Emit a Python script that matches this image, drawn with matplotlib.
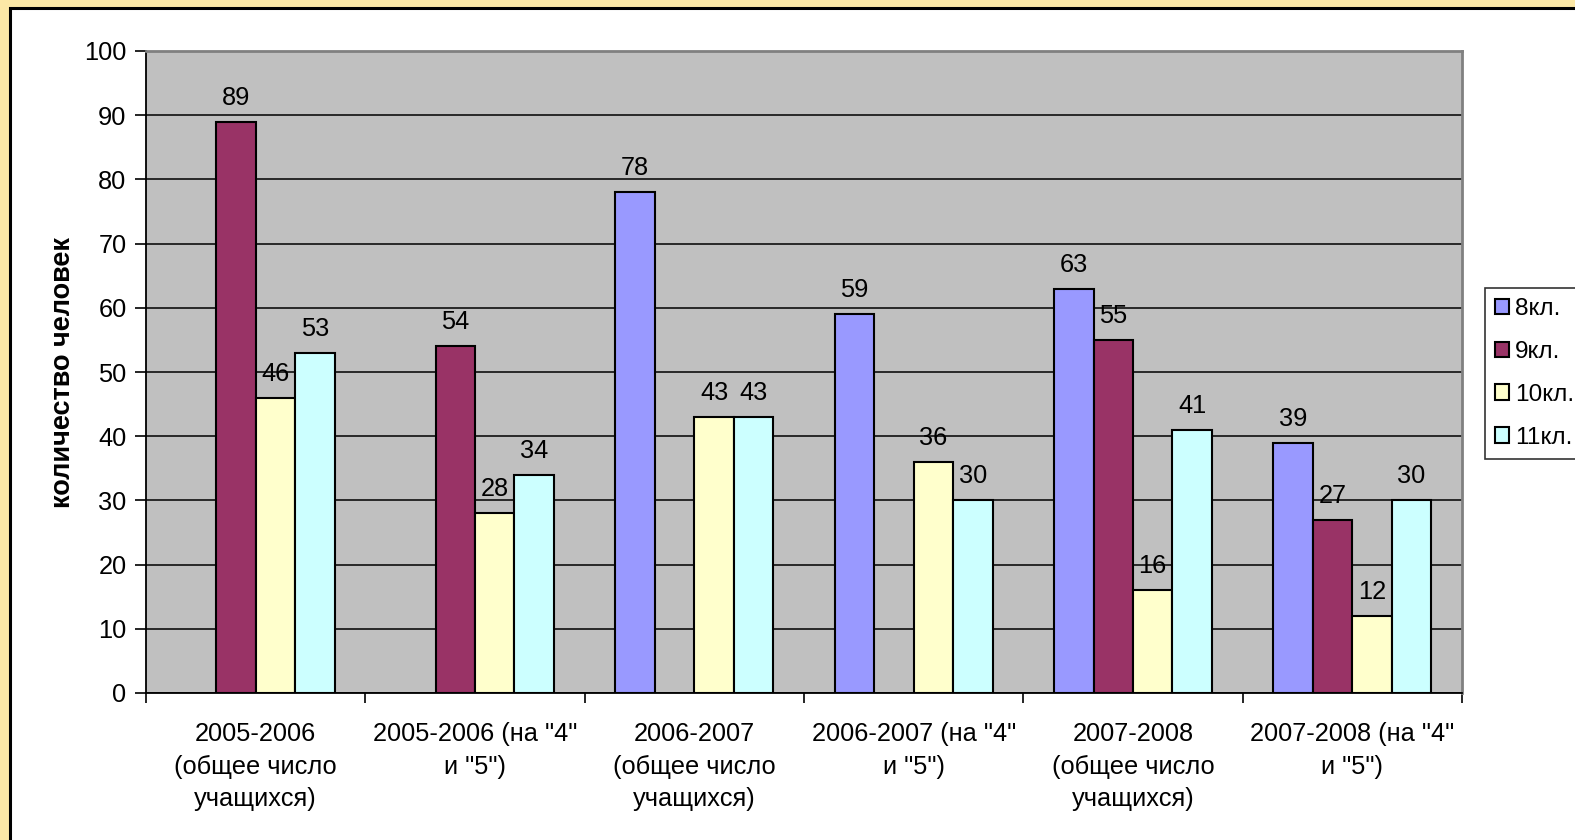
import matplotlib
matplotlib.use("Agg")
import matplotlib.pyplot as plt
import numpy as np
from matplotlib.patches import Rectangle

plt.rcParams['font.family'] = ['Liberation Sans', 'DejaVu Sans']

categories = [
    '2005-2006\n(общее число\nучащихся)',
    '2005-2006 (на "4"\nи "5")',
    '2006-2007\n(общее число\nучащихся)',
    '2006-2007 (на "4"\nи "5")',
    '2007-2008\n(общее число\nучащихся)',
    '2007-2008 (на "4"\nи "5")',
]
series_names = ['8кл.', '9кл.', '10кл.', '11кл.']
v8 = [None, None, 78, 59, 63, 39]
v9 = [89, 54, None, None, 55, 27]
v10 = [46, 28, 43, 36, 16, 12]
v11 = [53, 34, 43, 30, 41, 30]
series_values = [v8, v9, v10, v11]
colors = ['#9999FF', '#993366', '#FFFFCC', '#CCFFFF']
yticks = list(range(0, 101, 10))

FS = 18.3
W, H = 1575, 840
fig = plt.figure(figsize=(W / 100, H / 100), dpi=100)
fig.patch.set_facecolor('#FCE8A6')
panel = Rectangle((10 / W, -0.05), 1.1, 1 - 8 / H + 0.05, transform=fig.transFigure,
                  facecolor='white', edgecolor='black', linewidth=2.2, zorder=-5)
fig.patches.append(panel)

L, R, T, B = 146, 1462, 51, 693
ax = fig.add_axes([L / W, 1 - B / H, (R - L) / W, (B - T) / H])
ax.set_facecolor('#C0C0C0')

n = len(categories)
x = np.arange(n)
bw = 0.18
for i, (name, vals, c) in enumerate(zip(series_names, series_values, colors)):
    offs = (i - 1.5) * bw
    xs = [xi + offs for xi, v in zip(x, vals) if v is not None]
    hs = [v for v in vals if v is not None]
    bars = ax.bar(xs, hs, width=bw, color=c, edgecolor='black', linewidth=1.5,
                  label=name, zorder=3)
    for b, h in zip(bars, hs):
        ax.annotate(str(h), (b.get_x() + b.get_width() / 2, h), xytext=(0, 12),
                    textcoords='offset pixels', ha='center', va='bottom',
                    fontsize=FS, zorder=4)

ax.set_xlim(-0.5, n - 0.5)
ax.set_ylim(0, 100)
ax.set_yticks(yticks)
ax.yaxis.grid(True, color='black', linewidth=1.1, zorder=1)
ax.set_axisbelow(True)
ax.tick_params(axis='y', labelsize=FS, length=8, width=1.2, direction='out', pad=6)

ax.set_xticks(np.arange(-0.5, n, 1.0))
ax.set_xticklabels([])
ax.tick_params(axis='x', which='major', length=7, width=1.2, direction='out')
ax.set_xticks(x, minor=True)
ax.set_xticklabels(categories, minor=True, fontsize=FS, linespacing=1.45)
ax.tick_params(axis='x', which='minor', length=0, pad=21)

for s in ['top', 'right']:
    ax.spines[s].set_color('#808080')
    ax.spines[s].set_linewidth(2)
for s in ['left', 'bottom']:
    ax.spines[s].set_color('black')
    ax.spines[s].set_linewidth(1.3)

ax.set_ylabel('количество человек', fontsize=19.5, fontweight='bold')
ax.yaxis.set_label_coords(-0.053, 0.5)

leg = fig.legend(loc='upper left', bbox_to_anchor=(1485 / W, 1 - 288 / H),
                 fontsize=17.6, frameon=True, fancybox=False, edgecolor='black',
                 handlelength=0.55, handleheight=0.6, handletextpad=0.25,
                 labelspacing=0.85, borderpad=0.42, borderaxespad=0)
leg.get_frame().set_linewidth(1.2)

fig.savefig('out.png', dpi=100, facecolor=fig.get_facecolor())
